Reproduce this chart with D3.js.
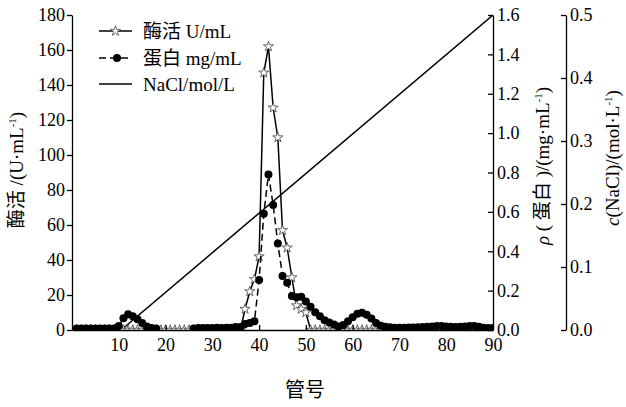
<!DOCTYPE html>
<html>
<head>
<meta charset="utf-8">
<script src="https://cdn.jsdelivr.net/npm/d3@7"></script>
<style>
	body { margin: 0; background: #fff; }
	svg { display: block; }
	text { font-family: "Liberation Serif", "Noto Sans CJK SC", serif; fill: #000; }
</style>
</head>
<body>
<svg id="chart"></svg>
<script>
// tube numbers 1..90
const tubes = [
	1, 2, 3, 4, 5, 6, 7, 8, 9, 10, 11, 12, 13, 14, 15, 16, 17, 18, 19, 20,
	21, 22, 23, 24, 25, 26, 27, 28, 29, 30, 31, 32, 33, 34, 35, 36, 37, 38, 39, 40,
	41, 42, 43, 44, 45, 46, 47, 48, 49, 50, 51, 52, 53, 54, 55, 56, 57, 58, 59, 60,
	61, 62, 63, 64, 65, 66, 67, 68, 69, 70, 71, 72, 73, 74, 75, 76, 77, 78, 79, 80,
	81, 82, 83, 84, 85, 86, 87, 88, 89, 90
];

// 酶活 U/mL
const enzyme = [
	0, 0, 0, 0, 0, 0, 0, 0, 0, 0, 0, 0, 0, 0, 0, 0, 0, 0, 0, 0,
	0, 0, 0, 0, 0, 0, 0, 0, 0, 0, 0, 0, 0, 0, 0, 0, 12, 22, 29, 42,
	147, 162, 127, 110, 57, 47, 30, 14, 12, 10, 0, 0, 0, 0, 0, 0, 0, 0, 0, 0,
	0, 0, 0, 0, 0, 0, 0, 0, 0, 0, 0, 0, 0, 0, 0, 0, 0, 0, 0, 0,
	0, 0, 0, 0, 0, 0, 0, 0, 0, 0
];

// 蛋白 mg/mL (null = not measured)
const protein = [
	0.008, 0.008, 0.008, 0.008, 0.008, 0.008, 0.008, 0.008, 0.008, 0.02,
	0.06, 0.08, 0.07, 0.055, 0.035, 0.018, 0.01, 0.008, null, null,
	null, null, null, null, null, 0.008, 0.01, 0.01, 0.01, 0.01,
	0.012, 0.01, 0.012, 0.012, 0.015, 0.015, 0.03, 0.035, 0.045, 0.254,
	0.59, 0.79, 0.635, 0.44, 0.274, 0.24, 0.173, 0.166, 0.169, 0.145,
	0.118, 0.09, 0.07, 0.05, 0.038, 0.028, 0.018, 0.025, 0.045, 0.065,
	0.082, 0.088, 0.078, 0.058, 0.035, 0.022, 0.016, 0.014, 0.012, 0.012,
	0.012, 0.013, 0.013, 0.014, 0.015, 0.016, 0.018, 0.02, 0.02, 0.018,
	0.016, 0.015, 0.016, 0.018, 0.02, 0.02, 0.016, 0.012, 0.01, 0.01
];

// NaCl gradient mol/L
const naclTubes = [10.5, 90];
const naclValues = [0, 0.5];

const xTicks = [10, 20, 30, 40, 50, 60, 70, 80, 90];
const enzymeTicks = [0, 20, 40, 60, 80, 100, 120, 140, 160, 180];
const proteinTicks = [0, 0.2, 0.4, 0.6, 0.8, 1.0, 1.2, 1.4, 1.6];
const naclTicks = [0, 0.1, 0.2, 0.3, 0.4, 0.5];

const width = 626;
const height = 407;
const plot = { left: 72, right: 493, top: 15, bottom: 330 };
const axis2X = 566;

const svg = d3.select("#chart").attr("width", width).attr("height", height);

const x = d3.scaleLinear().domain([0, 90]).range([plot.left, plot.right]);
const yE = d3.scaleLinear().domain([0, 180]).range([plot.bottom, plot.top]);
const yP = d3.scaleLinear().domain([0, 1.6]).range([plot.bottom, plot.top]);
const yN = d3.scaleLinear().domain([0, 0.5]).range([plot.bottom, plot.top]);

svg.append("clipPath")
	.attr("id", "clip")
	.append("rect")
	.attr("x", plot.left)
	.attr("y", plot.top - 8)
	.attr("width", plot.right - plot.left)
	.attr("height", plot.bottom - plot.top + 8);

const series = svg.append("g").attr("clip-path", "url(#clip)");

// NaCl gradient
series.append("path")
	.datum(naclTubes.map((t, i) => [t, naclValues[i]]))
	.attr("fill", "none")
	.attr("stroke", "#000")
	.attr("stroke-width", 1.5)
	.attr("d", d3.line().x((d) => x(d[0])).y((d) => yN(d[1])));

// enzyme activity
const enzData = tubes.map((t, i) => [t, enzyme[i]]);
series.append("path")
	.datum(enzData)
	.attr("fill", "none")
	.attr("stroke", "#000")
	.attr("stroke-width", 1.5)
	.attr("d", d3.line().x((d) => x(d[0])).y((d) => yE(d[1])));

const star = d3.symbol().type(d3.symbolStar).size(32);
series.append("g")
	.selectAll("path")
	.data(enzData)
	.join("path")
	.attr("d", star)
	.attr("transform", (d) => "translate(" + x(d[0]) + "," + yE(d[1]) + ")")
	.attr("fill", "#fff")
	.attr("stroke", "#444")
	.attr("stroke-width", 0.8);

// protein
const protData = tubes.map((t, i) => [t, protein[i]]);
series.append("path")
	.datum(protData)
	.attr("fill", "none")
	.attr("stroke", "#000")
	.attr("stroke-width", 1.5)
	.attr("stroke-dasharray", "7,4")
	.attr("d", d3.line()
		.defined((d) => d[1] !== null)
		.x((d) => x(d[0]))
		.y((d) => yP(d[1])));

series.append("g")
	.selectAll("circle")
	.data(protData.filter((d) => d[1] !== null))
	.join("circle")
	.attr("cx", (d) => x(d[0]))
	.attr("cy", (d) => yP(d[1]))
	.attr("r", 4)
	.attr("fill", "#000");

// axes
const styleAxis = (g) => {
	g.selectAll("path, line").attr("stroke", "#000").attr("stroke-width", 1.3);
	g.selectAll("text").attr("font-size", 18).attr("fill", "#000");
};

svg.append("g")
	.attr("transform", "translate(0," + plot.bottom + ")")
	.call(d3.axisBottom(x).tickValues(xTicks).tickSizeInner(-5).tickSizeOuter(0).tickPadding(8))
	.call(styleAxis);

svg.append("g")
	.attr("transform", "translate(" + plot.left + ",0)")
	.call(d3.axisLeft(yE).tickValues(enzymeTicks).tickSizeInner(5).tickSizeOuter(0).tickPadding(2))
	.call(styleAxis);

svg.append("g")
	.attr("transform", "translate(" + plot.right + ",0)")
	.call(d3.axisRight(yP).tickValues(proteinTicks).tickSizeInner(-5).tickSizeOuter(0)
		.tickPadding(4).tickFormat(d3.format(".1f")))
	.call(styleAxis);

svg.append("g")
	.attr("transform", "translate(" + axis2X + ",0)")
	.call(d3.axisRight(yN).tickValues(naclTicks).tickSizeInner(-5).tickSizeOuter(0)
		.tickPadding(4).tickFormat(d3.format(".1f")))
	.call(styleAxis);

// axis titles
const leftTitle = svg.append("text")
	.attr("transform", "translate(23,170) rotate(-90)")
	.attr("text-anchor", "middle")
	.attr("font-size", 19);
leftTitle.append("tspan").attr("font-family", "Noto Sans CJK SC").text("酶活");
leftTitle.append("tspan").text(" /(U·mL");
leftTitle.append("tspan").attr("font-size", 11).attr("dy", -7).text("-1");
leftTitle.append("tspan").attr("dy", 7).text(")");

const protTitle = svg.append("text")
	.attr("transform", "translate(549,166) rotate(-90)")
	.attr("text-anchor", "middle")
	.attr("font-size", 19);
protTitle.append("tspan").attr("font-style", "italic").text("ρ");
protTitle.append("tspan").text(" ( ");
protTitle.append("tspan").attr("font-family", "Noto Sans CJK SC").text("蛋白");
protTitle.append("tspan").text(" )/(mg·mL");
protTitle.append("tspan").attr("font-size", 11).attr("dy", -7).text("-1");
protTitle.append("tspan").attr("dy", 7).text(")");

const naclTitle = svg.append("text")
	.attr("transform", "translate(619,158) rotate(-90)")
	.attr("text-anchor", "middle")
	.attr("font-size", 19);
naclTitle.append("tspan").attr("font-style", "italic").text("c");
naclTitle.append("tspan").text("(NaCl)/(mol·L");
naclTitle.append("tspan").attr("font-size", 11).attr("dy", -7).text("-1");
naclTitle.append("tspan").attr("dy", 7).text(")");

svg.append("text")
	.attr("x", 305)
	.attr("y", 397)
	.attr("text-anchor", "middle")
	.attr("font-size", 20)
	.attr("font-family", "Noto Sans CJK SC")
	.text("管号");

// legend
const legend = svg.append("g");
const rowY = [31, 58, 84];

legend.append("line")
	.attr("x1", 99).attr("x2", 132).attr("y1", rowY[0]).attr("y2", rowY[0])
	.attr("stroke", "#000").attr("stroke-width", 1.5);
legend.append("path")
	.attr("d", star)
	.attr("transform", "translate(115.5," + rowY[0] + ")")
	.attr("fill", "#fff").attr("stroke", "#444").attr("stroke-width", 0.8);

legend.append("line")
	.attr("x1", 99).attr("x2", 132).attr("y1", rowY[1]).attr("y2", rowY[1])
	.attr("stroke", "#000").attr("stroke-width", 1.5).attr("stroke-dasharray", "7,4");
legend.append("circle")
	.attr("cx", 117).attr("cy", rowY[1]).attr("r", 4).attr("fill", "#000");

legend.append("line")
	.attr("x1", 99).attr("x2", 132).attr("y1", rowY[2]).attr("y2", rowY[2])
	.attr("stroke", "#000").attr("stroke-width", 1.5);

const legendText = [
	["酶活", " U/mL"],
	["蛋白", " mg/mL"],
	[null, "NaCl/mol/L"]
];
legendText.forEach((parts, i) => {
	const t = legend.append("text")
		.attr("x", 143)
		.attr("y", rowY[i])
		.attr("dy", "0.35em")
		.attr("font-size", 19);
	if (parts[0]) t.append("tspan").attr("font-family", "Noto Sans CJK SC").text(parts[0]);
	t.append("tspan").text(parts[1]);
});
</script>
</body>
</html>
